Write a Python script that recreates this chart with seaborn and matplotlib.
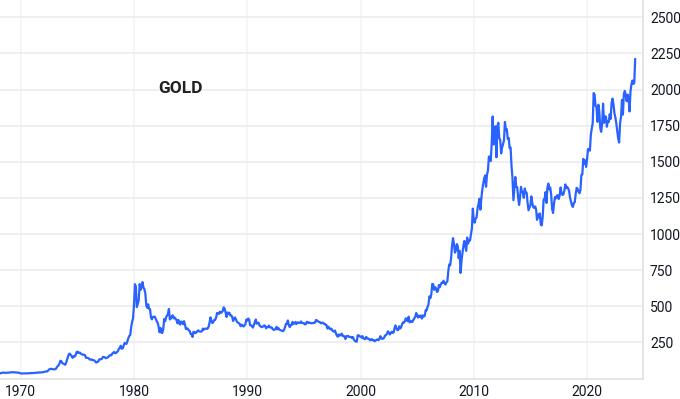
import numpy as np
import pandas as pd
import matplotlib
matplotlib.use("Agg")
import matplotlib.pyplot as plt
import seaborn as sns

# Monthly gold price (USD/oz)
prices_1960s = [  # Jan 1968 - Dec 1969
    35.2, 35.2, 37.5, 38.0, 41.0, 41.1, 39.5, 39.2, 39.9, 39.9, 40.8, 41.1,
    42.3, 42.6, 43.2, 43.3, 43.5, 41.3, 42.0, 41.1, 40.4, 40.2, 37.4, 35.2,
]
prices_1970s = [
    34.9, 34.9, 35.1, 35.6, 35.9, 35.4, 35.3, 35.4, 36.2, 37.5, 37.4, 37.4,
    37.9, 38.7, 38.9, 39.0, 40.5, 40.1, 40.9, 42.7, 42.0, 42.5, 42.9, 43.5,
    45.8, 48.3, 48.3, 49.0, 54.6, 62.1, 65.7, 67.0, 65.5, 64.9, 62.9, 63.9,
    65.1, 74.2, 84.4, 90.5, 102.0, 122.8, 120.2, 106.8, 103.0, 100.1, 94.8, 106.7,
    129.2, 150.2, 168.4, 172.2, 163.5, 154.1, 143.0, 154.6, 151.8, 158.8, 181.7, 186.0,
    176.3, 179.6, 178.2, 169.8, 167.1, 164.2, 165.1, 162.6, 144.3, 142.8, 142.6, 139.3,
    131.6, 130.6, 132.5, 127.9, 127.2, 125.5, 117.6, 109.8, 114.4, 116.1, 130.6, 133.9,
    132.3, 136.4, 148.3, 149.2, 146.9, 140.8, 143.2, 144.6, 150.0, 158.9, 161.9, 160.3,
    173.2, 178.2, 183.7, 175.1, 176.3, 183.9, 188.7, 206.4, 212.4, 227.1, 206.0, 207.8,
    227.3, 245.7, 242.1, 239.2, 257.6, 279.1, 294.7, 300.8, 355.1, 392.0, 415.0, 512.0,
]
prices_1980s = [
    653.0, 637.0, 494.5, 517.4, 540.0, 653.5, 614.3, 631.3, 666.8, 629.0, 619.8, 589.8,
    506.5, 489.0, 513.8, 482.8, 479.7, 422.8, 409.3, 425.5, 428.8, 427.0, 414.5, 397.5,
    387.0, 362.6, 320.0, 350.4, 317.5, 315.0, 342.9, 411.5, 397.0, 423.3, 436.0, 448.0,
    481.4, 408.5, 414.8, 429.3, 437.5, 416.0, 422.5, 414.3, 405.0, 382.0, 405.0, 380.0,
    373.8, 394.3, 388.0, 375.8, 397.0, 373.0, 342.4, 348.3, 343.8, 333.5, 329.0, 309.0,
    306.7, 287.8, 323.5, 321.3, 314.0, 317.8, 327.5, 333.3, 326.0, 325.3, 324.5, 326.8,
    345.5, 338.5, 344.0, 345.8, 343.3, 345.5, 357.5, 384.7, 423.2, 401.0, 383.5, 390.9,
    405.0, 405.9, 421.5, 453.3, 451.0, 447.3, 462.5, 453.4, 459.5, 467.0, 492.5, 484.1,
    458.0, 426.2, 457.0, 449.0, 455.5, 436.6, 436.8, 427.8, 397.7, 412.4, 422.6, 410.1,
    394.0, 387.0, 383.2, 377.6, 361.8, 373.0, 368.3, 359.8, 366.5, 375.3, 408.2, 401.0,
]
prices_1990s = [
    415.1, 407.7, 368.5, 367.8, 363.1, 352.2, 372.3, 387.8, 408.4, 379.5, 384.9, 386.2,
    366.0, 362.7, 355.6, 357.3, 360.4, 368.4, 362.9, 347.4, 354.9, 357.5, 366.3, 353.2,
    354.1, 353.1, 341.7, 336.4, 337.5, 343.4, 357.8, 340.0, 349.0, 339.3, 334.2, 332.9,
    330.5, 327.6, 337.8, 354.3, 377.5, 378.5, 401.8, 371.6, 355.5, 369.6, 370.9, 391.8,
    377.9, 381.6, 391.3, 376.5, 387.6, 388.3, 384.0, 385.8, 394.9, 383.9, 383.1, 383.3,
    374.9, 376.4, 392.0, 389.8, 384.3, 387.1, 383.4, 382.4, 384.0, 382.7, 387.8, 387.0,
    405.6, 400.7, 396.4, 391.3, 390.6, 382.0, 385.3, 386.5, 379.0, 379.5, 371.3, 369.3,
    345.5, 358.6, 348.2, 340.2, 345.6, 334.6, 326.4, 325.4, 332.1, 311.4, 296.8, 289.2,
    304.9, 297.4, 301.0, 310.7, 293.6, 296.3, 288.9, 273.4, 293.9, 292.3, 294.7, 287.8,
    287.6, 287.3, 279.5, 286.6, 268.6, 261.0, 255.6, 254.8, 299.0, 299.1, 291.4, 290.3,
]
prices_2000s = [
    283.3, 293.7, 276.8, 275.1, 272.3, 288.2, 276.8, 277.0, 273.7, 264.5, 269.1, 272.7,
    264.5, 266.7, 257.7, 263.2, 267.5, 270.6, 265.9, 273.0, 293.1, 278.8, 274.0, 276.5,
    282.3, 296.9, 301.4, 308.2, 326.6, 318.5, 304.7, 312.8, 323.7, 316.9, 317.7, 347.2,
    367.5, 347.5, 334.9, 336.8, 361.4, 346.0, 354.8, 375.6, 388.0, 386.3, 398.4, 416.3,
    402.2, 396.9, 427.8, 388.5, 393.3, 395.8, 391.4, 407.3, 415.7, 428.4, 453.4, 435.6,
    422.2, 435.5, 427.5, 435.7, 414.5, 437.1, 429.0, 433.3, 473.3, 470.8, 495.7, 513.0,
    568.8, 556.0, 582.0, 654.5, 653.0, 613.5, 632.5, 623.5, 599.3, 603.8, 646.7, 632.0,
    650.5, 664.2, 661.8, 677.0, 659.1, 650.5, 665.5, 672.0, 743.0, 789.5, 783.5, 836.5,
    923.3, 971.5, 933.5, 871.0, 885.8, 930.3, 918.0, 833.0, 884.5, 730.8, 814.5, 869.8,
    919.5, 952.0, 916.5, 883.3, 975.5, 934.5, 955.5, 955.5, 995.8, 1040.0, 1175.8, 1087.5,
]
prices_2010s = [
    1078.5, 1108.3, 1115.5, 1179.3, 1207.5, 1244.5, 1169.0, 1246.0, 1307.0, 1346.8, 1386.0, 1405.5,
    1327.0, 1411.0, 1439.0, 1535.5, 1536.5, 1505.5, 1628.5, 1813.5, 1620.0, 1722.0, 1746.0, 1531.0,
    1744.0, 1770.0, 1662.5, 1651.3, 1558.0, 1598.5, 1622.0, 1648.5, 1776.0, 1719.0, 1726.0, 1657.5,
    1664.8, 1594.8, 1598.3, 1469.0, 1387.0, 1234.5, 1314.5, 1394.8, 1326.5, 1324.0, 1253.0, 1201.5,
    1251.0, 1326.5, 1291.8, 1288.5, 1250.5, 1315.0, 1285.3, 1285.8, 1216.5, 1164.3, 1182.8, 1199.3,
    1260.3, 1214.0, 1187.0, 1180.3, 1191.4, 1171.0, 1098.4, 1135.0, 1115.1, 1142.3, 1065.0, 1060.0,
    1118.0, 1238.0, 1237.0, 1290.0, 1215.0, 1320.8, 1349.0, 1309.3, 1322.5, 1272.0, 1173.0, 1146.0,
    1210.5, 1255.6, 1247.3, 1266.5, 1268.9, 1242.3, 1267.5, 1322.2, 1283.1, 1270.2, 1275.0, 1302.5,
    1343.1, 1317.9, 1325.5, 1315.5, 1298.3, 1250.5, 1223.7, 1200.0, 1187.3, 1214.9, 1220.7, 1279.0,
    1319.8, 1313.3, 1292.3, 1282.3, 1305.6, 1409.0, 1413.0, 1520.3, 1485.3, 1510.1, 1464.6, 1514.8,
]
prices_2020s = [  # Jan 2020 - Mar 2024
    1587.9, 1585.7, 1577.2, 1686.2, 1730.3, 1768.1, 1975.9, 1964.9, 1886.9, 1879.9, 1776.5, 1895.1,
    1847.7, 1734.0, 1707.7, 1767.7, 1902.7, 1770.1, 1814.2, 1813.6, 1742.8, 1783.4, 1774.8, 1828.6,
    1796.6, 1908.7, 1937.4, 1896.9, 1837.1, 1807.3, 1765.9, 1711.0, 1660.6, 1633.6, 1768.5, 1812.4,
    1928.4, 1826.9, 1969.3, 1990.0, 1962.7, 1919.4, 1965.1, 1940.2, 1848.6, 1983.9, 2036.4, 2062.4,
    2039.4, 2044.2, 2212.0,
]

series = [prices_1960s, prices_1970s, prices_1980s, prices_1990s,
          prices_2000s, prices_2010s, prices_2020s]
values = np.concatenate([np.asarray(s, dtype=float) for s in series])
months = np.arange(len(values))
dates = 1968 + (months + 1) / 12.0  # month-end position
df = pd.DataFrame({"year": dates, "price": values})

year_ticks = [1970, 1980, 1990, 2000, 2010, 2020]
price_ticks = [250, 500, 750, 1000, 1250, 1500, 1750, 2000, 2250, 2500]
title = "GOLD"

sns.set_style("white")
plt.rcParams["font.family"] = ["Roboto", "DejaVu Sans"]

fig = plt.figure(figsize=(6.8, 3.99), dpi=100)
ax = fig.add_axes([0.0, 1 - 378.5 / 399, 643 / 680, 378.5 / 399])

sns.lineplot(data=df, x="year", y="price", ax=ax, color="#2962FF",
             linewidth=1.6, estimator=None)

ax.set_xlim(1968.17, 2024.94)
ax.set_ylim(0, 2620)
ax.set_xticks(year_ticks)
ax.set_xticklabels([str(y) for y in year_ticks])
ax.set_yticks(price_ticks)
ax.set_yticklabels([str(p) for p in price_ticks])
ax.yaxis.tick_right()
ax.tick_params(axis="both", length=0, labelsize=10, colors="#131722")
ax.tick_params(axis="y", pad=5)
ax.tick_params(axis="x", pad=5)
ax.set_xlabel("")
ax.set_ylabel("")

ax.grid(True, axis="y", color="#ebebeb", linewidth=1.1)
ax.grid(True, axis="x", color="#f0f2f6", linewidth=1.1)
ax.set_axisbelow(True)

for side in ["top", "left"]:
    ax.spines[side].set_visible(False)
for side in ["bottom", "right"]:
    ax.spines[side].set_visible(True)
    ax.spines[side].set_color("#e0e0e0")
    ax.spines[side].set_linewidth(1.2)

ax.text(1982.1, 2005, title, fontsize=12.5, fontweight="bold", color="#222222",
        ha="left", va="center")

fig.savefig("out.png", dpi=100)
